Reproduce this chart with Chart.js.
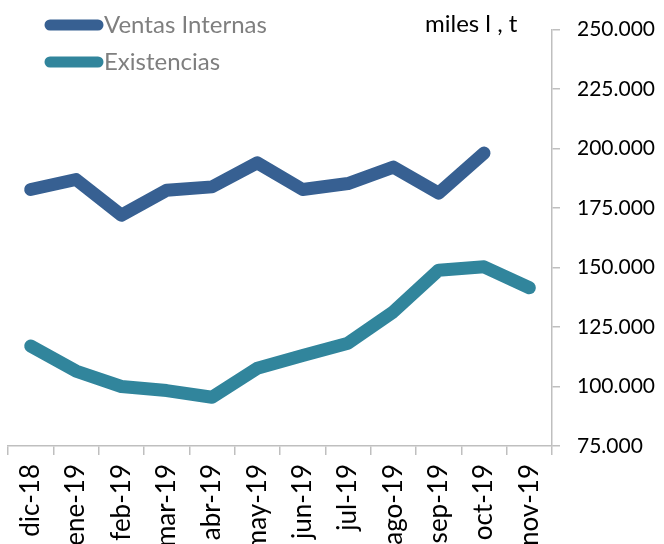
<!DOCTYPE html>
<html>
<head>
<meta charset="utf-8">
<script src="https://cdn.jsdelivr.net/npm/chart.js@4/dist/chart.umd.min.js"></script>
<style>
  html, body { margin: 0; padding: 0; background: #fff; overflow: hidden; }
  #chart { display: block; }
</style>
</head>
<body>
<canvas id="chart" width="664" height="544"></canvas>
<script>
// Data
const months = ['dic-18', 'ene-19', 'feb-19', 'mar-19', 'abr-19', 'may-19',
                'jun-19', 'jul-19', 'ago-19', 'sep-19', 'oct-19', 'nov-19'];
const ventasInternas = [182800, 187000, 172000, 182500, 183900, 194000,
                        182800, 185300, 192200, 181300, 198100, null];
const existencias = [117000, 106500, 100000, 98300, 95500, 107700,
                     113000, 118200, 131400, 148900, 150300, 141500];
const yMin = 75000;
const yMax = 250000;
const yStep = 25000;
const unitLabel = 'miles l , t';

const FONT = 'Lato, "Open Sans", sans-serif';
const axisGrey = '#bfbfbf';

// thousands with a dot, as in the original
function formatMiles(v) {
    return String(v).replace(/\B(?=(\d{3})+(?!\d))/g, '.');
}

// legend + unit text drawn by hand (thick rounded line markers)
const legendPlugin = {
    id: 'customLegend',
    afterDraw(chart) {
        const ctx = chart.ctx;
        ctx.save();
        chart.data.datasets.forEach((ds, i) => {
            const y = 25 + i * 37;
            ctx.strokeStyle = ds.borderColor;
            ctx.lineWidth = 11;
            ctx.lineCap = 'round';
            ctx.beginPath();
            ctx.moveTo(50, y);
            ctx.lineTo(98, y);
            ctx.stroke();
            ctx.fillStyle = '#7f7f7f';
            ctx.font = '24px ' + FONT;
            ctx.textBaseline = 'middle';
            ctx.textAlign = 'left';
            ctx.fillText(ds.label, 104, y);
        });
        ctx.fillStyle = '#000';
        ctx.font = '24px ' + FONT;
        ctx.textBaseline = 'middle';
        ctx.fillText(unitLabel, 425, 24);
        ctx.restore();
    }
};

const ctx = document.getElementById('chart').getContext('2d');
new Chart(ctx, {
    type: 'line',
    data: {
        labels: months,
        datasets: [{
            label: 'Ventas Internas',
            data: ventasInternas,
            borderColor: '#376092',
            backgroundColor: '#376092',
            borderWidth: 13,
            borderCapStyle: 'round',
            borderJoinStyle: 'round',
            pointRadius: 0,
            tension: 0,
            fill: false
        }, {
            label: 'Existencias',
            data: existencias,
            borderColor: '#31859c',
            backgroundColor: '#31859c',
            borderWidth: 13,
            borderCapStyle: 'round',
            borderJoinStyle: 'round',
            pointRadius: 0,
            tension: 0,
            fill: false
        }]
    },
    options: {
        responsive: false,
        animation: false,
        layout: { padding: { top: 29, left: 8, right: 0, bottom: 0 } },
        plugins: {
            legend: { display: false },
            tooltip: { enabled: false }
        },
        scales: {
            x: {
                offset: true,
                grid: {
                    offset: true,
                    drawOnChartArea: false,
                    drawTicks: true,
                    tickLength: 9,
                    color: axisGrey,
                    lineWidth: 1.5
                },
                border: { display: true, color: axisGrey, width: 1.5 },
                ticks: {
                    minRotation: 90,
                    maxRotation: 90,
                    autoSkip: false,
                    padding: 9,
                    color: '#000',
                    font: { family: FONT, size: 26 }
                },
                afterFit(scale) { scale.height = 98; }
            },
            y: {
                position: 'right',
                min: yMin,
                max: yMax,
                grid: {
                    drawOnChartArea: false,
                    drawTicks: true,
                    tickLength: 8,
                    color: axisGrey,
                    lineWidth: 1.5
                },
                border: { display: true, color: axisGrey, width: 1.5 },
                ticks: {
                    stepSize: yStep,
                    padding: 17,
                    color: '#000',
                    font: { family: FONT, size: 21 },
                    callback: value => formatMiles(value)
                },
                afterFit(scale) { scale.width = 112; }
            }
        }
    },
    plugins: [legendPlugin]
});
</script>
</body>
</html>
